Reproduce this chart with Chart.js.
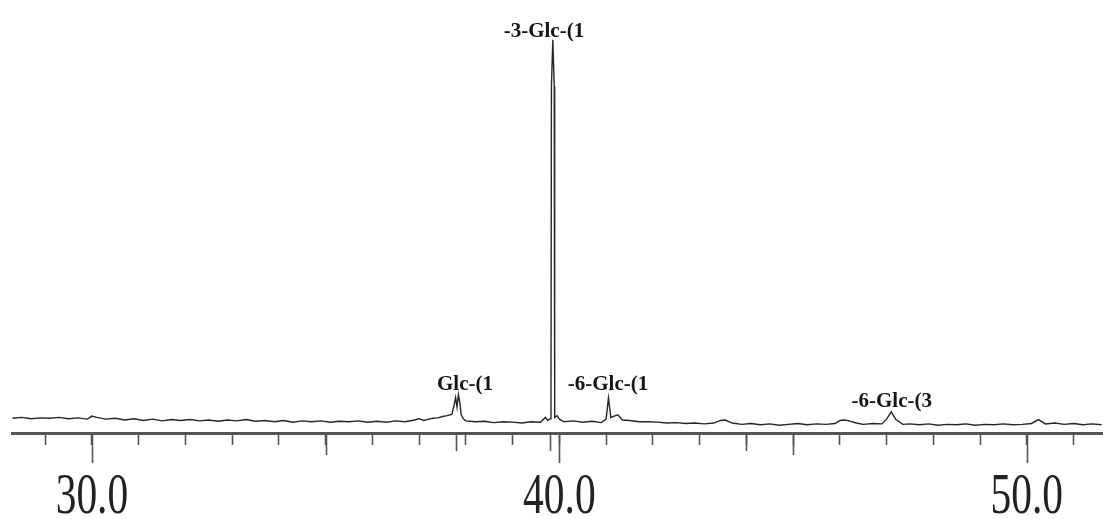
<!DOCTYPE html>
<html>
<head>
<meta charset="utf-8">
<script src="https://cdn.jsdelivr.net/npm/chart.js@4"></script>
<style>
  html, body { margin: 0; padding: 0; background: #fff; }
  #wrap { width: 1103px; height: 519px; position: relative; }
</style>
</head>
<body>
<div id="wrap"><canvas id="c" width="1103" height="519"></canvas></div>
<script>
// 13C spectrum trace: chemical shift (ppm) and signal intensity
const shifts = [
  28.3, 28.5, 28.7, 28.9, 29.1, 29.3, 29.5, 29.7, 29.9, 30.0, 30.1, 30.3, 30.5, 30.7, 30.9,
  31.1, 31.3, 31.5, 31.7, 31.9, 32.1, 32.3, 32.5, 32.7, 32.9, 33.1, 33.3, 33.5, 33.7, 33.9,
  34.1, 34.3, 34.5, 34.7, 34.9, 35.1, 35.3, 35.5, 35.7, 35.9, 36.1, 36.3, 36.5, 36.7, 36.9,
  37.0, 37.1, 37.2, 37.3, 37.4, 37.5, 37.6, 37.7, 37.75, 37.78, 37.81, 37.84, 37.87, 37.9, 37.95,
  38.0, 38.2, 38.4, 38.6, 38.8, 39.0, 39.2, 39.4, 39.6, 39.7, 39.75, 39.8, 39.82, 39.83, 39.86,
  39.89, 39.9, 39.95, 40.0, 40.1, 40.3, 40.5, 40.7, 40.9, 41.0, 41.05, 41.1, 41.2, 41.25, 41.35,
  41.5, 41.7, 41.9, 42.1, 42.3, 42.5, 42.7, 42.9, 43.1, 43.3, 43.45, 43.55, 43.7, 43.9, 44.1,
  44.3, 44.5, 44.7, 44.9, 45.1, 45.3, 45.5, 45.7, 45.9, 46.0, 46.1, 46.2, 46.35, 46.5, 46.7,
  46.9, 47.0, 47.1, 47.2, 47.35, 47.5, 47.7, 47.9, 48.1, 48.3, 48.5, 48.7, 48.9, 49.1, 49.3,
  49.5, 49.7, 49.9, 50.1, 50.25, 50.4, 50.6, 50.8, 51.0, 51.2, 51.4, 51.6
];
const intensities = [
  3.4, 3.6, 3.3, 3.5, 3.4, 3.6, 3.3, 3.5, 3.2, 3.9, 3.6, 3.2, 3.4, 3.0, 3.3,
  2.9, 3.2, 2.8, 3.1, 2.9, 3.1, 2.8, 3.0, 2.7, 3.0, 2.8, 3.1, 2.7, 2.9, 2.6,
  2.9, 2.5, 2.8, 2.6, 2.8, 2.5, 2.7, 2.6, 2.8, 2.5, 2.7, 2.5, 2.8, 2.6, 3.0,
  3.3, 2.9, 3.2, 3.4, 3.5, 3.8, 4.0, 4.3, 6.5, 8.2, 6.0, 8.8, 7.0, 4.2, 3.2,
  2.8, 2.6, 2.7, 2.4, 2.6, 2.5, 2.3, 2.6, 2.5, 3.6, 2.9, 3.3, 3.4, 80.0, 90.8,
  80.0, 3.6, 4.0, 3.2, 2.6, 2.8, 2.5, 2.7, 2.4, 3.2, 8.1, 3.6, 4.0, 4.2, 3.0,
  2.9, 2.6, 2.6, 2.5, 2.3, 2.4, 2.2, 2.3, 2.1, 2.3, 2.9, 3.0, 2.3, 2.0, 2.2,
  1.9, 2.1, 1.8, 2.0, 2.2, 1.9, 2.1, 2.0, 2.2, 2.9, 3.0, 2.8, 2.3, 2.0, 2.2,
  2.1, 3.2, 4.9, 3.1, 2.0, 2.1, 1.9, 2.1, 1.8, 2.0, 1.9, 2.1, 1.8, 2.0, 1.9,
  2.1, 1.9, 2.0, 2.2, 3.1, 2.1, 2.3, 2.0, 2.2, 1.9, 2.1, 1.9
];

// axis ticks
const tickLabelValues = [30, 40, 50];
const tickLabels = ['30.0', '40.0', '50.0'];
const midTickValues = [35, 45];
const peakTickValues = [37.78, 39.8, 44.0];

// peak assignments
const peakNames = ['-3-Glc-(1', 'Glc-(1', '-6-Glc-(1', '-6-Glc-(3'];
const peakNameShifts = [39.67, 37.98, 41.04, 47.11];
const peakNameHeights = [92.8, 11.1, 11.1, 7.2];

const trace = shifts.map((s, i) => ({ x: s, y: intensities[i] }));

const decorations = {
  id: 'decorations',
  afterDraw(chart) {
    const ctx = chart.ctx;
    const xs = chart.scales.x;
    const ys = chart.scales.y;
    const base = chart.chartArea.bottom;
    ctx.save();
    ctx.strokeStyle = '#555';
    ctx.lineWidth = 1.6;
    const tick = (v, len) => {
      const px = Math.round(xs.getPixelForValue(v)) + 0.5;
      ctx.beginPath();
      ctx.moveTo(px, base);
      ctx.lineTo(px, base + len);
      ctx.stroke();
    };
    tickLabelValues.forEach(v => tick(v, 30));
    midTickValues.forEach(v => tick(v, 22));
    peakTickValues.forEach(v => tick(v, 18));

    // condensed serif tick labels
    ctx.fillStyle = '#222';
    ctx.font = '56px "Liberation Serif", "DejaVu Serif", serif';
    ctx.textAlign = 'center';
    ctx.textBaseline = 'alphabetic';
    tickLabelValues.forEach((v, i) => {
      ctx.save();
      ctx.translate(xs.getPixelForValue(v), 513);
      ctx.scale(0.74, 1);
      ctx.fillText(tickLabels[i], 0, 0);
      ctx.restore();
    });

    // peak names
    ctx.fillStyle = '#151515';
    ctx.font = 'bold 21px "Liberation Serif", "DejaVu Serif", serif';
    ctx.textBaseline = 'middle';
    peakNames.forEach((name, i) => {
      ctx.fillText(name, xs.getPixelForValue(peakNameShifts[i]), ys.getPixelForValue(peakNameHeights[i]));
    });
    ctx.restore();
  }
};

new Chart(document.getElementById('c'), {
  type: 'line',
  data: {
    datasets: [{
      data: trace,
      borderColor: '#262626',
      borderWidth: 1.4,
      pointRadius: 0,
      tension: 0,
      fill: false
    }]
  },
  options: {
    responsive: false,
    animation: false,
    layout: { padding: { left: 12, right: 0, top: 0, bottom: 0 } },
    plugins: { legend: { display: false }, tooltip: { enabled: false } },
    scales: {
      x: {
        type: 'linear',
        min: 28.29,
        max: 51.63,
        afterFit: (s) => { s.height = 86; },
        ticks: { display: false, stepSize: 1, includeBounds: false },
        grid: { drawOnChartArea: false, drawTicks: true, tickLength: 12, tickColor: '#555', tickWidth: 1.6 },
        border: { display: true, color: '#555', width: 3 }
      },
      y: {
        display: false,
        min: 0,
        max: 100
      }
    }
  },
  plugins: [decorations]
});
</script>
</body>
</html>
